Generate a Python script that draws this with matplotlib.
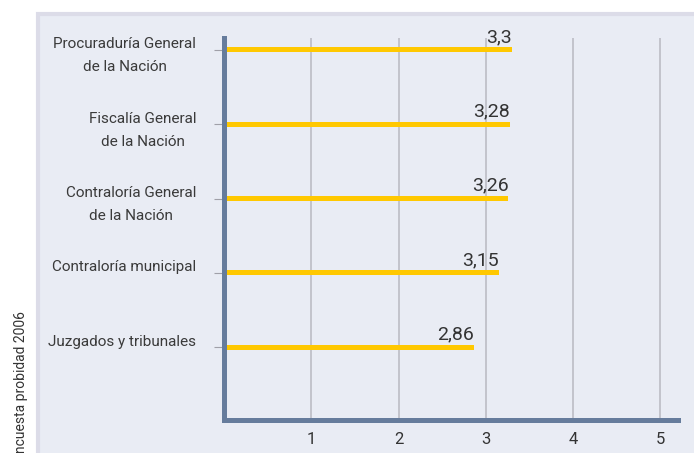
import matplotlib.pyplot as plt
from matplotlib import font_manager
from matplotlib.patches import Rectangle

# datos
instituciones = ['Procuraduría General\nde la Nación', 'Fiscalía General\nde la Nación',
                 'Contraloría General\nde la Nación', 'Contraloría municipal',
                 'Juzgados y tribunales']
valores = [3.3, 3.28, 3.26, 3.15, 2.86]
etiquetas = ['3,3', '3,28', '3,26', '3,15', '2,86']
xticks = [1, 2, 3, 4, 5]

# fuente estrecha si existe
nombres = {f.name for f in font_manager.fontManager.ttflist}
if 'Liberation Sans Narrow' in nombres:
    plt.rcParams['font.family'] = ['Liberation Sans Narrow', 'DejaVu Sans']
    tam = 12
else:
    plt.rcParams['font.family'] = ['Roboto', 'DejaVu Sans']
    tam = 11

W, H = 694, 453
fig = plt.figure(figsize=(W / 100, H / 100), dpi=100, facecolor='white')

# marco de fondo
fondo = fig.add_axes([0, 0, 1, 1], zorder=0)
fondo.axis('off')
fondo.set_xlim(0, W)
fondo.set_ylim(H, 0)
fondo.add_patch(Rectangle((38, 14), W, H, facecolor='#e9ecf4', edgecolor='#dcdce8', linewidth=3))

ax = fig.add_axes([224 / W, (H - 420) / H, (678 - 224) / W, (420 - 38) / H], zorder=1)
ax.set_facecolor('none')

y = list(range(len(valores)))
ax.barh(y, valores, height=0.07, color='#ffc800', zorder=3)

for yi, v, t in zip(y, valores, etiquetas):
    ax.text(v, yi - 0.05, t, ha='right', va='bottom', fontsize=tam + 3, color='#333333', zorder=4)

# etiquetas de categorías (primera línea a la altura de la barra)
for yi, nom in zip(y, instituciones):
    ax.annotate(nom, xy=(0, yi), xycoords=('axes fraction', 'data'),
                xytext=(-20, 9), textcoords='offset points',
                ha='right', va='top', multialignment='center',
                linespacing=1.8, fontsize=tam, color='#3a3a3a')

ax.set_xlim(0, (678 - 224) / 87.25)
ax.set_ylim(len(valores) - 1 + 0.98, -0.16)

ax.set_xticks(xticks)
ax.set_xticklabels([str(x) for x in xticks], fontsize=tam + 1, color='#333333')
ax.tick_params(axis='x', length=0, pad=9)
ax.grid(axis='x', color='#b8b8c0', linewidth=1.1, zorder=1)

ax.set_yticks(y)
ax.set_yticklabels([])
ax.tick_params(axis='y', length=7, width=0.8, color='#a0a0a8')

for s in ['top', 'right']:
    ax.spines[s].set_visible(False)
for s in ['left', 'bottom']:
    ax.spines[s].set_color('#667c9c')
    ax.spines[s].set_linewidth(3.6)
    ax.spines[s].set_zorder(5)

fig.text(21 / W, -0.018, 'Encuesta probidad 2006', rotation=90, ha='center', va='bottom',
         fontsize=tam - 1, color='#333333')

fig.savefig('out.png', dpi=100)
